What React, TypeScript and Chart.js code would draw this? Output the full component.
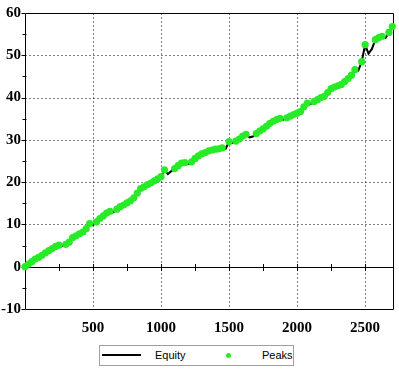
import React, { useEffect, useRef } from "react";
import { Chart, registerables } from "chart.js";
Chart.register(...registerables);

const tradeIndex = [
  0, 25, 50, 75, 100, 125, 150, 175, 200, 225, 250, 275, 300, 325, 350, 375, 400, 425, 450, 475,
  500, 525, 550, 575, 600, 625, 650, 675, 700, 725, 750, 775, 800, 825, 850, 875, 900, 925, 950, 975,
  1000, 1025, 1050, 1075, 1100, 1125, 1150, 1175, 1200, 1225, 1250, 1275, 1300, 1325, 1350, 1375, 1400, 1425, 1450, 1475,
  1500, 1525, 1550, 1575, 1600, 1625, 1650, 1675, 1700, 1725, 1750, 1775, 1800, 1825, 1850, 1875, 1900, 1925, 1950, 1975,
  2000, 2025, 2050, 2075, 2100, 2125, 2150, 2175, 2200, 2225, 2250, 2275, 2300, 2325, 2350, 2375, 2400, 2425, 2450, 2475,
  2500, 2525, 2550, 2575, 2600, 2625, 2650, 2675, 2700,
];

const equity = [
  0, 0.6, 1.2, 1.8, 2.2, 2.7, 3.3, 3.8, 4.3, 4.8, 5.1, 4.9, 5.3, 5.8, 6.9, 7.3, 7.8, 8.2, 9.0, 10.2,
  9.8, 10.6, 11.4, 12.0, 12.7, 13.1, 12.9, 13.6, 14.2, 14.6, 15.1, 15.6, 16.3, 17.4, 18.5, 18.9, 19.4, 19.8, 20.3, 20.8,
  21.3, 22.9, 21.9, 22.6, 23.2, 23.9, 24.5, 24.6, 24.3, 24.8, 25.6, 26.2, 26.7, 27.0, 27.4, 27.6, 27.8, 27.9, 28.1, 27.9,
  29.6, 29.3, 29.7, 30.2, 30.9, 31.3, 30.6, 30.8, 31.5, 32.1, 32.6, 33.2, 33.9, 34.4, 34.8, 35.1, 34.8, 35.2, 35.6, 36.0,
  36.3, 36.7, 37.8, 38.7, 38.5, 39.1, 39.5, 40.0, 40.3, 41.2, 42.1, 42.5, 42.8, 43.1, 43.8, 44.5, 45.3, 46.6, 46.4, 48.5,
  52.5, 50.4, 51.5, 53.7, 54.2, 54.5, 54.1, 55.4, 56.8,
];

const xTicks = [500, 1000, 1500, 2000, 2500];
const xMinorTicks = [250, 500, 750, 1000, 1250, 1500, 1750, 2000, 2250, 2500];
const yTicks = [-10, 0, 10, 20, 30, 40, 50, 60];
const yMinorTicks = [-5, 5, 15, 25, 35, 45, 55];
const xMin = 0;
const xMax = 2705;
const yMin = -10;
const yMax = 60;

const GREEN = "rgb(40,235,40)";

const framePlugin = {
  id: "framePlugin",
  beforeDatasetsDraw(chart: any) {
    const { ctx, chartArea: a, scales } = chart;
    const x = scales.x;
    const y = scales.y;
    const L = Math.round(a.left) + 0.5;
    const R = Math.round(a.right) + 0.5;
    const T = Math.round(a.top) + 0.5;
    const B = Math.round(a.bottom) + 0.5;
    ctx.save();
    ctx.strokeStyle = "#000";
    ctx.lineWidth = 1;
    ctx.setLineDash([1, 3]);
    ctx.beginPath();
    for (const v of xTicks) {
      const px = Math.round(x.getPixelForValue(v)) + 0.5;
      ctx.moveTo(px, T);
      ctx.lineTo(px, B);
    }
    for (const v of yTicks) {
      if (v <= yMin || v >= yMax || v === 0) continue;
      const py = Math.round(y.getPixelForValue(v)) + 0.5;
      ctx.moveTo(L, py);
      ctx.lineTo(R, py);
    }
    ctx.stroke();
    ctx.setLineDash([]);
    ctx.beginPath();
    ctx.rect(L, T, R - L, B - T);
    const y0 = Math.round(y.getPixelForValue(0)) + 0.5;
    ctx.moveTo(L, y0);
    ctx.lineTo(R, y0);
    for (const v of xMinorTicks) {
      const px = Math.round(x.getPixelForValue(v)) + 0.5;
      ctx.moveTo(px, y0 - 3.5);
      ctx.lineTo(px, y0 + 3.5);
    }
    for (const v of yTicks) {
      const py = Math.round(y.getPixelForValue(v)) + 0.5;
      ctx.moveTo(L - 4, py);
      ctx.lineTo(L, py);
    }
    for (const v of yMinorTicks) {
      const py = Math.round(y.getPixelForValue(v)) + 0.5;
      ctx.moveTo(L - 3, py);
      ctx.lineTo(L + 1, py);
    }
    ctx.stroke();
    ctx.restore();
  },
};

export default function App() {
  const canvasRef = useRef<HTMLCanvasElement | null>(null);

  useEffect(() => {
    document.body.style.margin = "0";
    const canvas = canvasRef.current;
    if (!canvas) return;
    const lineData = tradeIndex.map((t, i) => ({ x: t, y: equity[i] }));
    const peakData: { x: number; y: number }[] = [];
    let runMax = -Infinity;
    equity.forEach((v, i) => {
      if (v >= runMax) {
        runMax = v;
        peakData.push({ x: tradeIndex[i], y: v });
      }
    });
    const tickFont = { family: "'Liberation Serif', 'Times New Roman', serif", size: 15, weight: "bold" as const };
    const chart = new Chart(canvas, {
      type: "line",
      data: {
        datasets: [
          {
            label: "Equity",
            data: lineData,
            borderColor: "#000",
            borderWidth: 2,
            pointRadius: 0,
            tension: 0,
            fill: false,
            clip: false as any,
            order: 2,
          },
          {
            label: "Peaks",
            data: peakData,
            showLine: false,
            pointRadius: 3.6,
            pointBackgroundColor: GREEN,
            pointBorderWidth: 0,
            borderColor: GREEN,
            clip: false as any,
            order: 1,
          },
        ],
      },
      options: {
        animation: false,
        responsive: false,
        maintainAspectRatio: false,
        layout: { padding: { top: 11, right: 6, left: 0, bottom: 0 } },
        plugins: { legend: { display: false }, tooltip: { enabled: false } },
        scales: {
          x: {
            type: "linear",
            min: xMin,
            max: xMax,
            grid: { display: false, drawTicks: false },
            border: { display: false },
            ticks: {
              color: "#000",
              font: tickFont,
              padding: 10,
              maxRotation: 0,
              autoSkip: false,
              callback: (v: any) => String(v),
            },
            afterBuildTicks: (s: any) => {
              s.ticks = xTicks.map((v) => ({ value: v }));
            },
            afterFit: (s: any) => {
              s.height = 61;
            },
          },
          y: {
            type: "linear",
            min: yMin,
            max: yMax,
            grid: { display: false, drawTicks: false },
            border: { display: false },
            ticks: { color: "#000", font: tickFont, padding: 4, callback: (v: any) => String(v) },
            afterBuildTicks: (s: any) => {
              s.ticks = yTicks.map((v) => ({ value: v }));
            },
            afterFit: (s: any) => {
              s.width = 25;
            },
          },
        },
      },
      plugins: [framePlugin],
    });
    return () => chart.destroy();
  }, []);

  const legendFont = "'Liberation Sans', Arial, sans-serif";
  return (
    <div style={{ position: "fixed", left: 0, top: 0, width: 399, height: 370, background: "#fff" }}>
      <canvas ref={canvasRef} width={399} height={370} style={{ display: "block", width: 399, height: 370 }} />
      <div
        style={{
          position: "absolute",
          left: 99,
          top: 345,
          width: 195,
          height: 21,
          border: "1px solid #a0a0a0",
          boxSizing: "border-box",
          background: "#fff",
          fontFamily: legendFont,
          fontSize: 11,
          color: "#000",
        }}
      >
        <div style={{ position: "absolute", left: 2, top: 8, width: 39, height: 2, background: "#000" }} />
        <span style={{ position: "absolute", left: 55, top: 0, lineHeight: "19px" }}>Equity</span>
        <div
          style={{
            position: "absolute",
            left: 126,
            top: 6.5,
            width: 5,
            height: 5,
            borderRadius: "50%",
            background: GREEN,
          }}
        />
        <span style={{ position: "absolute", left: 162, top: 0, lineHeight: "19px" }}>Peaks</span>
      </div>
    </div>
  );
}
